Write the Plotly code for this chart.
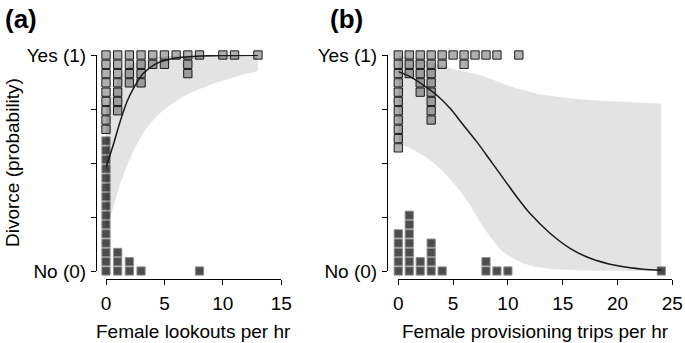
import plotly.graph_objects as go

W, H = 685, 343
FONT = "Liberation Sans, Arial, Helvetica, sans-serif"

# ---------------- Panel (a): Female lookouts per hr ----------------
a_bins = [0, 1, 2, 3, 4, 5, 6, 7, 8, 9, 10, 11, 12, 13]
a_yes_counts = [9, 7, 4, 4, 2, 2, 1, 3, 1, 0, 1, 1, 0, 1]
a_no_counts = [15, 3, 2, 1, 0, 0, 0, 0, 1, 0, 0, 0, 0, 0]

a_curve_x = [0, 0.6, 1.2, 1.8, 2.4, 3.2, 4.3, 5.8, 8, 10, 13]
a_curve_p = [0.48, 0.58, 0.69, 0.785, 0.85, 0.915, 0.96, 0.985, 0.995, 0.998, 0.999]

a_lo_x = [0, 0.6, 1.2, 2.05, 3.2, 4.6, 6.6, 8.9, 10.9, 13]
a_lo_p = [0.19, 0.29, 0.40, 0.52, 0.64, 0.73, 0.807, 0.861, 0.897, 0.926]
a_hi_x = [0, 0.6, 1.2, 2, 3, 4, 5, 6.5, 8, 10, 13]
a_hi_p = [0.75, 0.83, 0.9, 0.95, 0.975, 0.988, 0.994, 0.997, 0.998, 0.999, 0.9995]

# ---------------- Panel (b): Female provisioning trips per hr ----------------
b_bins = list(range(0, 25))
b_yes_counts = [11, 3, 5, 8, 2, 1, 2, 1, 1, 1, 0, 1, 0, 0, 0, 0, 0, 0, 0, 0, 0, 0, 0, 0, 0]
b_no_counts = [5, 7, 2, 4, 1, 0, 0, 0, 2, 1, 1, 0, 0, 0, 0, 0, 0, 0, 0, 0, 0, 0, 0, 0, 1]

b_curve_x = [0, 1.07, 2.28, 3.5, 4.72, 5.93, 7.15, 8.37, 9.58, 10.8, 12.0, 13.84, 15.67, 17.5, 19.9, 22.35, 24]
b_curve_p = [0.923, 0.90, 0.861, 0.815, 0.753, 0.676, 0.599, 0.514, 0.429, 0.344, 0.267, 0.175, 0.105, 0.059, 0.025, 0.008, 0.004]

b_lo_x = [0, 0.46, 1.68, 2.89, 4.1, 5.33, 6.54, 7.45, 8.37, 9.58, 11.4, 13.5, 16, 20, 24]
b_lo_p = [0.6, 0.583, 0.552, 0.514, 0.46, 0.39, 0.306, 0.228, 0.159, 0.089, 0.036, 0.012, 0.004, 0.001, 0.0]
b_hi_x = [0, 1, 2, 3, 5.02, 7.45, 9.89, 11.4, 12.93, 14.45, 17.5, 20.5, 24]
b_hi_p = [0.995, 0.99, 0.98, 0.965, 0.935, 0.907, 0.861, 0.838, 0.818, 0.807, 0.792, 0.784, 0.776]

x_ticks_a = [0, 5, 10, 15]
x_ticks_b = [0, 5, 10, 15, 20, 25]
y_tickvals = [0, 0.25, 0.5, 0.75, 1]
y_ticktext = ["No (0)", "", "", "", "Yes (1)"]

DOT_STEP = 0.043  # vertical stacking step of squares (in probability units)

LIGHT = "#b0b0b0"
DARK = "#4d4d4d"
BAND = "rgba(0,0,0,0.11)"


def stack(bins, counts, top):
    xs, ys = [], []
    for b, c in zip(bins, counts):
        for k in range(c):
            xs.append(b)
            ys.append(1 - k * DOT_STEP if top else k * DOT_STEP)
    return xs, ys


fig = go.Figure()


def add_panel(xa, ya, bins, yes, no, lo_x, lo_p, hi_x, hi_p, cx, cp):
    yx, yy = stack(bins, yes, True)
    nx, ny = stack(bins, no, False)
    fig.add_trace(go.Scatter(x=yx, y=yy, mode="markers", xaxis=xa, yaxis=ya,
                             cliponaxis=False,
                             marker=dict(symbol="square", size=8.3, color=LIGHT,
                                         line=dict(color="#1a1a1a", width=1))))
    fig.add_trace(go.Scatter(x=nx, y=ny, mode="markers", xaxis=xa, yaxis=ya,
                             cliponaxis=False,
                             marker=dict(symbol="square", size=8.2, color=DARK,
                                         line=dict(color="#8c8c8c", width=1))))
    fig.add_trace(go.Scatter(x=lo_x, y=lo_p, mode="lines", xaxis=xa, yaxis=ya,
                             line=dict(width=0, shape="spline", smoothing=0.8),
                             showlegend=False))
    fig.add_trace(go.Scatter(x=hi_x, y=hi_p, mode="lines", xaxis=xa, yaxis=ya,
                             fill="tonexty", fillcolor=BAND,
                             line=dict(width=0, shape="spline", smoothing=0.8),
                             showlegend=False))
    fig.add_trace(go.Scatter(x=cx, y=cp, mode="lines", xaxis=xa, yaxis=ya,
                             line=dict(color="#1a1a1a", width=1.5, shape="spline", smoothing=0.8)))


add_panel("x", "y", a_bins, a_yes_counts, a_no_counts, a_lo_x, a_lo_p, a_hi_x, a_hi_p, a_curve_x, a_curve_p)
add_panel("x2", "y2", b_bins, b_yes_counts, b_no_counts, b_lo_x, b_lo_p, b_hi_x, b_hi_p, b_curve_x, b_curve_p)

ydom = [1 - 271 / H, 1 - 55 / H]
xpos = 1 - 279 / H

common_x = dict(showline=True, linecolor="black", linewidth=1, ticks="outside", ticklen=5,
                tickcolor="black", tickwidth=1, showgrid=False, zeroline=False,
                tickfont=dict(size=19, color="black", family=FONT), anchor="free",
                position=xpos, ticklabelstandoff=2)
common_y = dict(showline=True, linecolor="black", linewidth=1, ticks="outside", ticklen=5,
                tickcolor="black", tickwidth=1, showgrid=False, zeroline=False,
                tickfont=dict(size=19, color="black", family=FONT), anchor="free",
                range=[0, 1], domain=ydom, tickvals=y_tickvals, ticktext=y_ticktext,
                ticklabelstandoff=1)

fig.update_layout(
    width=W, height=H, margin=dict(l=0, r=0, t=0, b=0, autoexpand=False),
    paper_bgcolor="white", plot_bgcolor="white", showlegend=False,
    font=dict(family=FONT, size=19, color="black"),
    hovermode=False,
    xaxis=dict(common_x, domain=[106 / W, 281.3 / W], range=[0, 15], tickvals=x_ticks_a),
    yaxis=dict(common_y, position=96 / W),
    xaxis2=dict(common_x, domain=[398.3 / W, 672.3 / W], range=[0, 25], tickvals=x_ticks_b),
    yaxis2=dict(common_y, position=387 / W),
    annotations=[
        dict(text="<b>(a)</b>", x=21 / W, y=1 - 19 / H, xref="paper", yref="paper",
             showarrow=False, font=dict(size=26, family=FONT), xanchor="center", yanchor="middle"),
        dict(text="<b>(b)</b>", x=346 / W, y=1 - 19 / H, xref="paper", yref="paper",
             showarrow=False, font=dict(size=26, family=FONT), xanchor="center", yanchor="middle"),
        dict(text="Divorce (probability)", x=12 / W, y=1 - 163 / H, xref="paper", yref="paper",
             showarrow=False, textangle=-90, font=dict(size=19, family=FONT),
             xanchor="center", yanchor="middle"),
        dict(text="Female lookouts per hr", x=193.7 / W, y=1 - 331 / H, xref="paper", yref="paper",
             showarrow=False, font=dict(size=19, family=FONT), xanchor="center", yanchor="middle"),
        dict(text="Female provisioning trips per hr", x=535.3 / W, y=1 - 331 / H, xref="paper",
             yref="paper", showarrow=False, font=dict(size=19, family=FONT),
             xanchor="center", yanchor="middle"),
    ],
)

fig.write_html("out.html", config={"displayModeBar": False},
               post_script="document.body.style.margin='0';document.body.style.overflow='hidden';")
